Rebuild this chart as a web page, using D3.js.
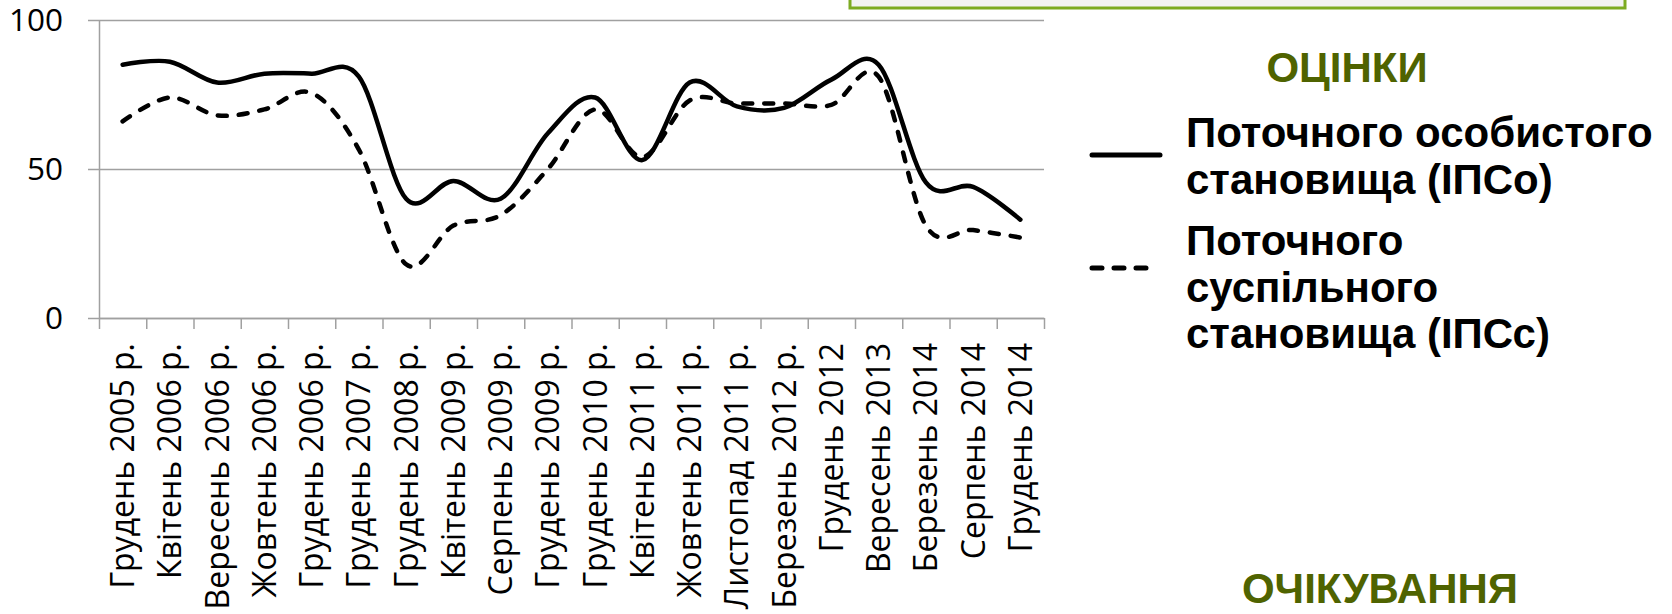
<!DOCTYPE html>
<html>
<head>
<meta charset="utf-8">
<script src="https://cdn.jsdelivr.net/npm/d3@7"></script>
<style>
  body { margin: 0; background: #fff; }
  svg { display: block; }
</style>
</head>
<body>
<div id="chart"></div>
<script>
// categories (survey waves)
const periods = [
  "Грудень 2005 р.", "Квітень 2006 р.", "Вересень 2006 р.", "Жовтень 2006 р.",
  "Грудень 2006 р.", "Грудень 2007 р.", "Грудень 2008 р.", "Квітень 2009 р.",
  "Серпень 2009 р.", "Грудень 2009 р.", "Грудень 2010 р.", "Квітень 2011 р.",
  "Жовтень 2011 р.", "Листопад 2011 р.", "Березень 2012 р.", "Грудень 2012",
  "Вересень 2013", "Березень 2014", "Серпень 2014", "Грудень 2014"
]
// ІПСо - personal situation
const personal = [85, 86, 79, 82, 82, 81, 40, 46, 40, 62, 74, 53, 79, 71, 70.5, 80, 85, 45.5, 44, 33]
// ІПСс - social situation
const social = [66, 74, 68, 70, 75.5, 56.5, 18, 31, 34.5, 50, 70, 54, 73, 72, 72, 71.5, 81, 31, 29.5, 27]
const yTicks = [0, 50, 100]

const W = 1672, H = 614
const margin = { left: 99, right: 1044, top: 20, bottom: 318 }

const svg = d3.select("#chart").append("svg")
  .attr("width", W).attr("height", H)

// green box at top (partially visible)
svg.append("rect")
  .attr("x", 850).attr("y", -40)
  .attr("width", 775).attr("height", 48)
  .attr("fill", "#f3f3f3")
  .attr("stroke", "#7dab22")
  .attr("stroke-width", 3)

var x = d3.scaleBand().domain(periods).range([margin.left, margin.right]).padding(0)
var y = d3.scaleLinear().domain([0, 100]).range([margin.bottom, margin.top])

const gray = "#a0a0a0"

// gridlines + y ticks
const yAxisGroup = svg.append("g").attr("transform", "translate(" + margin.left + ",0)")
yAxisGroup.call(d3.axisLeft(y).tickValues(yTicks).tickSize(11).tickPadding(25).tickSizeOuter(0))
yAxisGroup.select(".domain").attr("stroke", gray).attr("stroke-width", 1.5)
yAxisGroup.selectAll(".tick line").attr("stroke", gray).attr("stroke-width", 1.5)
  .attr("x2", margin.right - margin.left).attr("x1", -11)
yAxisGroup.selectAll("text")
  .attr("font-family", "'Open Sans', sans-serif")
  .attr("font-size", 31.5)
  .attr("fill", "#000")

// x axis: tick marks at category boundaries
const xBounds = d3.scaleLinear().domain([0, periods.length]).range([margin.left, margin.right])
const xAxisGroup = svg.append("g").attr("transform", "translate(0," + margin.bottom + ")")
xAxisGroup.call(d3.axisBottom(xBounds).ticks(periods.length).tickSize(11).tickFormat("").tickSizeOuter(0))
xAxisGroup.select(".domain").attr("stroke", gray).attr("stroke-width", 1.5)
xAxisGroup.selectAll(".tick line").attr("stroke", gray).attr("stroke-width", 1.5)

// x labels rotated
const xLabelGroup = svg.append("g").attr("transform", "translate(0," + margin.bottom + ")")
xLabelGroup.call(d3.axisBottom(x).tickSize(0).tickPadding(0))
xLabelGroup.select(".domain").remove()
xLabelGroup.selectAll("text")
  .attr("font-family", "'Open Sans', sans-serif")
  .attr("font-size", 32)
  .attr("fill", "#000")
  .attr("text-anchor", "end")
  .attr("transform", "rotate(-90)")
  .attr("x", -25)
  .attr("y", 0)
  .attr("dy", "0.36em")

// lines
const line = d3.line()
  .x((d, i) => x(periods[i]) + x.bandwidth() / 2)
  .y(d => y(d))
  .curve(d3.curveCardinal.tension(0))

svg.append("path").datum(personal)
  .attr("d", line)
  .attr("fill", "none")
  .attr("stroke", "#000")
  .attr("stroke-width", 4.5)
  .attr("stroke-linecap", "round")

svg.append("path").datum(social)
  .attr("d", line)
  .attr("fill", "none")
  .attr("stroke", "#000")
  .attr("stroke-width", 4.5)
  .attr("stroke-linecap", "round")
  .attr("stroke-dasharray", "9,12")

// legend
const green = "#4f6300"
const legendFont = "'Liberation Sans', Arial, sans-serif"

svg.append("text")
  .attr("x", 1347).attr("y", 82)
  .attr("text-anchor", "middle")
  .attr("font-family", legendFont).attr("font-weight", "bold")
  .attr("font-size", 42).attr("fill", green)
  .text("ОЦІНКИ")

svg.append("text")
  .attr("x", 1380).attr("y", 603)
  .attr("text-anchor", "middle")
  .attr("font-family", legendFont).attr("font-weight", "bold")
  .attr("font-size", 42).attr("fill", green)
  .text("ОЧІКУВАННЯ")

const legendItems = [
  { lines: ["Поточного особистого", "становища (ІПСо)"], y: 147, dash: null, ly: 155, x2: 1160 },
  { lines: ["Поточного", "суспільного", "становища (ІПСс)"], y: 255, dash: "10,12", ly: 268, x2: 1150 }
]

legendItems.forEach(item => {
  svg.append("line")
    .attr("x1", 1092).attr("x2", item.x2)
    .attr("y1", item.ly).attr("y2", item.ly)
    .attr("stroke", "#000").attr("stroke-width", 5)
    .attr("stroke-linecap", "round")
    .attr("stroke-dasharray", item.dash)
  const t = svg.append("text")
    .attr("font-family", legendFont).attr("font-weight", "bold")
    .attr("font-size", 42).attr("fill", "#000")
  item.lines.forEach((s, i) => {
    t.append("tspan").attr("x", 1186).attr("y", item.y + i * 46.5).text(s)
  })
})
</script>
</body>
</html>
